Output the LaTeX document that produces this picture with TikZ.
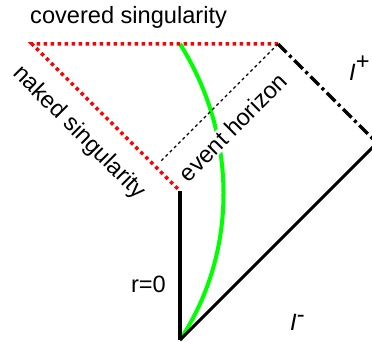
\documentclass[tikz,border=0pt]{standalone}
\usepackage{fontspec}
\setmainfont{Liberation Sans}
\begin{document}
\begin{tikzpicture}[x=1pt,y=-1pt,
  lbl/.style={font=\fontsize{23.6}{26}\selectfont, inner sep=0pt},
  sing/.style={red, line width=3.5pt, dash pattern=on 3.5pt off 3.5pt},
  horiz/.style={black, line width=1.2pt, dash pattern=on 3pt off 3pt},
  scri/.style={black, line width=3.5pt, dash pattern=on 12pt off 4pt on 3pt off 4pt},
  solidl/.style={black, line width=3.5pt},
  star/.style={green, line width=4pt}]
\useasboundingbox (0,0) rectangle (372,342);
\clip (0,0) rectangle (372,342);
\coordinate (A) at (32,44);
\coordinate (B) at (278,44);
\coordinate (C) at (180,191);
\coordinate (O) at (180,340);
\coordinate (H) at (160,162);
\coordinate (S) at (180,44);
\coordinate (Io) at (377,143);
% green collapsing star surface
\draw[star] (S) .. controls (237,134) and (239,251) .. (O);
% singularity
\draw[sing] (B) -- (A) -- (C);
% event horizon
\draw[horiz] (B) -- (H);
% r=0 and past null infinity
\draw[solidl] (C) -- (O);
\draw[black, line width=3pt] (O) -- (Io);
% future null infinity
\draw[scri] (B) -- (Io);
% labels
\node[lbl, anchor=base west] (tcov) at (30,24) {covered singularity};
\node[lbl, rotate=-45] (tnak) at (79,133) {naked singularity};
\node[lbl, rotate=45, fill=white, inner sep=1pt] (thor) at (233,127) {event horizon};
\node[lbl, anchor=base east] (tr) at (166,292) {r=0};
\node[lbl, anchor=base west] (tip) at (349,81) {\textit{I}\raisebox{11pt}{+}};
\node[lbl, anchor=base west] (tim) at (290,330) {\textit{I}\raisebox{8pt}{-}};
\end{tikzpicture}
\end{document}
